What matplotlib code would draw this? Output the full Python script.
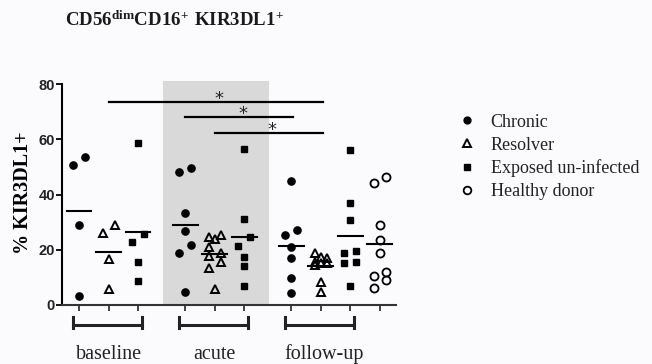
import numpy as np
import matplotlib
matplotlib.use("Agg")
import matplotlib.pyplot as plt
from matplotlib.lines import Line2D

# Percent KIR3DL1+ among CD56dim CD16+ NK cells, per donor
baseline_chronic = [50.7, 53.7, 28.9, 3.4]
baseline_resolver = [26.1, 28.9, 16.7, 5.8]
baseline_exposed = [58.8, 22.8, 25.8, 15.6, 8.7]
acute_chronic = [48.3, 49.8, 33.4, 26.8, 21.7, 18.8, 4.6]
acute_resolver = [24.7, 23.8, 25.4, 21.1, 18.7, 17.8, 15.7, 13.3, 5.7]
acute_exposed = [56.6, 31.3, 24.7, 21.5, 17.3, 14.0, 7.0]
followup_chronic = [45.0, 27.2, 25.2, 21.1, 16.9, 9.8, 4.2]
followup_resolver = [17.5, 18.7, 16.9, 15.7, 15.3, 15.1, 14.5, 8.5, 4.8]
followup_exposed = [56.2, 36.8, 30.8, 19.7, 18.7, 15.7, 15.3, 7.0]
healthy_donor = [46.5, 44.3, 29.0, 23.6, 18.7, 12.0, 10.5, 9.0, 6.0]

timepoints = ["baseline", "acute", "follow-up"]
cohorts = ["Chronic", "Resolver", "Exposed un-infected", "Healthy donor"]
yticks = [0, 20, 40, 60, 80]

# (time point index, cohort index, values)
columns = [
    (0, 0, baseline_chronic), (0, 1, baseline_resolver), (0, 2, baseline_exposed),
    (1, 0, acute_chronic), (1, 1, acute_resolver), (1, 2, acute_exposed),
    (2, 0, followup_chronic), (2, 1, followup_resolver), (2, 2, followup_exposed),
    (2, 3, healthy_donor),
]
# significant comparisons between column indices
sig_pairs = [(1, 7), (3, 6), (4, 7)]
sig_heights = [73.7, 68.1, 62.3]

styles = {
    0: dict(marker="o", ms=5.2, mfc="black", mec="black", mew=1.0),
    1: dict(marker="^", ms=5.8, mfc="none", mec="black", mew=1.4),
    2: dict(marker="s", ms=4.8, mfc="black", mec="black", mew=1.0),
    3: dict(marker="o", ms=5.8, mfc="none", mec="black", mew=1.3),
}

plt.rcParams["mathtext.fontset"] = "custom"
plt.rcParams["mathtext.rm"] = "Liberation Serif"
plt.rcParams["mathtext.bf"] = "Liberation Serif:bold"

W, H, DPI = 652, 364, 100
fig = plt.figure(figsize=(W / DPI, H / DPI), dpi=DPI, facecolor="#fbfbfd")
ax = fig.add_axes([62 / W, 1 - 305 / H, (396 - 62) / W, (305 - 81.4) / H])
ax.set_facecolor("none")

group_gap = 1.6
xpos = [t * (2 + group_gap) + c for t, c, _ in columns]
xlim = (-0.58, 10.75)
ylim = (0, 81)
ax.set_xlim(*xlim)
ax.set_ylim(*ylim)

# pixels per data unit, for laying points out side by side
px_x = (396 - 62) / (xlim[1] - xlim[0])
px_y = (305 - 81.4) / (ylim[1] - ylim[0])


def swarm_offsets(values, diam=9.0, step=6.0):
    """Spread crowded points over at most three sub-columns."""
    vals = np.asarray(values, float)
    slots = {}  # index -> slot (-1, 0, 1)

    def clash(slot, y, skip=()):
        return [j for j, s in slots.items() if j not in skip and
                ((slot - s) * step) ** 2 + (y - vals[j] * px_y) ** 2 < diam ** 2]

    for i in np.argsort(vals):
        y = vals[i] * px_y
        hits = clash(0, y)
        if not hits:
            slots[i] = 0
            continue
        if len(hits) == 1 and slots[hits[0]] == 0:
            j = hits[0]
            yj = vals[j] * px_y
            if not clash(-1, yj, skip=(j,)) and not clash(1, y, skip=(j,)):
                slots[j] = -1
                slots[i] = 1
                continue
        for s in (-1, 1):
            if not clash(s, y):
                slots[i] = s
                break
        else:
            def mind(s):
                return min(np.hypot((s - slots[j]) * step, y - vals[j] * px_y)
                           for j in slots)
            slots[i] = max((0, -1, 1), key=mind)
    return np.array([slots[i] * step / px_x for i in range(len(vals))])


# acute time point shading
ax.axvspan(xpos[3] - 0.77, xpos[5] + 0.83, color="#d9d9d9", lw=0, zorder=0)

for x, (t, c, vals) in zip(xpos, columns):
    offs = swarm_offsets(vals)
    ax.plot(x + offs, vals, ls="none", zorder=3, clip_on=False, **styles[c])
    m = np.mean(vals)
    ax.plot([x - 0.42, x + 0.42], [m, m], color="black", lw=1.5, zorder=4)

for (a, b), h in zip(sig_pairs, sig_heights):
    ax.plot([xpos[a], xpos[b] + 0.07], [h, h], color="black", lw=1.6, zorder=2)
    ax.text((xpos[a] + xpos[b]) / 2 + 0.15, h + 1.0, "*", ha="center", va="center",
            fontsize=13, family="DejaVu Sans", color="#222222")

# axes styling
for s in ["top", "right"]:
    ax.spines[s].set_visible(False)
ax.spines["left"].set_bounds(0, 80)
ax.spines["left"].set_linewidth(1.5)
ax.spines["bottom"].set_linewidth(1.5)
ax.spines["bottom"].set_color("#333333")
ax.set_yticks(yticks)
ax.set_yticklabels([str(v) for v in yticks], family="Liberation Sans",
                   fontweight="bold", fontsize=10.5, color="#222222")
ax.tick_params(axis="y", length=4, width=1.3, pad=1)
ax.set_xticks(xpos)
ax.set_xticklabels([])
ax.tick_params(axis="x", length=4, width=1.3, color="#333333")

ax.set_ylabel("% KIR3DL1+", family="Liberation Serif", fontweight="bold",
              fontsize=14.5, labelpad=4)

# time point brackets and labels under the axis
for t, name in enumerate(timepoints):
    cols = [x for x, (tt, c, _) in zip(xpos, columns) if tt == t][:3]
    x0, x1 = cols[0] - 0.22, cols[-1] + 0.12
    yb = -7.2
    ax.plot([x0, x1], [yb, yb], color="#222222", lw=2.2, clip_on=False)
    for xe in (x0, x1):
        ax.plot([xe, xe], [-4.3, -8.4], color="#222222", lw=2.2, clip_on=False)
    ax.text(cols[1] + (0.12 if t == 2 else 0), -19.4, name, ha="center",
            va="baseline", family="Liberation Serif", fontsize=14.5,
            color="#222222", clip_on=False)

fig.text(174 / W, 1 - 20 / H, r"$\mathbf{CD56^{dim}CD16^{+}\ KIR3DL1^{+}}$",
         ha="center", va="center", fontsize=13.6, color="#1a1a1a")

handles = [Line2D([], [], ls="none", **dict(styles[c], ms=styles[c]["ms"] * 0.95))
           for c in range(4)]
fig.legend(handles, cohorts, loc="upper left", bbox_to_anchor=(449 / W, 1 - 106.5 / H),
           frameon=False, prop=dict(family="Liberation Serif", size=13),
           handlelength=1.2, handletextpad=0.7, labelspacing=0.32, borderaxespad=0,
           labelcolor="#222222")

fig.savefig("out.png", dpi=DPI, facecolor=fig.get_facecolor())
